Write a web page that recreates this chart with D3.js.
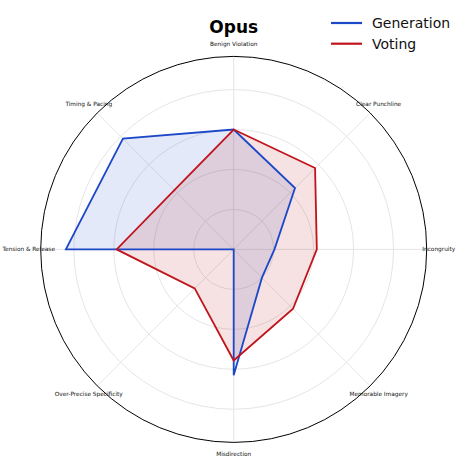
<!DOCTYPE html>
<html>
<head>
<meta charset="utf-8">
<script src="https://cdn.jsdelivr.net/npm/d3@7.9.0/dist/d3.min.js"></script>
<style>
  body { margin: 0; background: #fff; }
  svg { display: block; font-family: "DejaVu Sans", sans-serif; }
</style>
</head>
<body>
<svg id="chart" width="474" height="463"></svg>
<script>
// axes, clockwise from the top
const criteria = [
  "Benign Violation", "Clear Punchline", "Incongruity", "Memorable Imagery",
  "Misdirection", "Over-Precise Specificity", "Tension & Release", "Timing & Pacing"
];
const generation = [3.0, 2.17, 1.02, 1.0, 3.15, 0.0, 4.2, 3.92];
const voting = [3.0, 2.88, 2.08, 2.1, 2.78, 1.38, 2.93, 2.1];
const gridTicks = [1, 2, 3, 4];
const rMax = 4.83;

const series = [
  { name: "Generation", values: generation, color: "#1c48c8" },
  { name: "Voting", values: voting, color: "#c0141c" }
];

const svg = d3.select("#chart");
const cx = 233.7, cy = 249.4, R = 193;

const r = d3.scaleLinear().domain([0, rMax]).range([0, R]);
const angle = d3.scalePoint().domain(criteria.concat(["_end"])).range([0, 2 * Math.PI]);

const g = svg.append("g").attr("transform", `translate(${cx},${cy})`);

// grid circles
g.selectAll(".grid")
  .data(gridTicks)
  .join("circle")
  .attr("r", d => r(d))
  .attr("fill", "none")
  .attr("stroke", "#e2e2e2")
  .attr("stroke-width", 0.9);

// spokes
g.selectAll(".spoke")
  .data(criteria)
  .join("line")
  .attr("x1", 0).attr("y1", 0)
  .attr("x2", d => R * Math.sin(angle(d)))
  .attr("y2", d => -R * Math.cos(angle(d)))
  .attr("stroke", "#e2e2e2")
  .attr("stroke-width", 0.9);

// the polygons
let radial = d3.lineRadial()
  .angle((d, i) => angle(criteria[i]))
  .radius(d => r(d))
  .curve(d3.curveLinearClosed);

series.forEach(s => {
  g.append("path")
    .attr("d", radial(s.values))
    .attr("fill", s.color)
    .attr("fill-opacity", 0.12)
    .attr("stroke", "none");
});
series.forEach(s => {
  g.append("path")
    .attr("d", radial(s.values))
    .attr("fill", "none")
    .attr("stroke", s.color)
    .attr("stroke-width", 1.8)
    .attr("stroke-linejoin", "miter");
});

// outer frame
g.append("circle")
  .attr("r", R)
  .attr("fill", "none")
  .attr("stroke", "#000")
  .attr("stroke-width", 1);

// axis labels
g.selectAll(".lab")
  .data(criteria)
  .join("text")
  .attr("x", d => 205 * Math.sin(angle(d)))
  .attr("y", d => -205 * Math.cos(angle(d)))
  .attr("dy", "0.35em")
  .attr("text-anchor", "middle")
  .attr("font-size", 5.8)
  .attr("fill", "#111")
  .text(d => d);

// title
svg.append("text")
  .attr("x", cx)
  .attr("y", 33)
  .attr("text-anchor", "middle")
  .attr("font-size", 17)
  .attr("font-weight", "bold")
  .text("Opus");

// legend
const legend = svg.append("g").attr("transform", "translate(331,23)");
series.forEach((s, i) => {
  const row = legend.append("g").attr("transform", `translate(0,${i * 20.7})`);
  row.append("line")
    .attr("x1", 0).attr("x2", 31)
    .attr("stroke", s.color)
    .attr("stroke-width", 2.2);
  row.append("text")
    .attr("x", 41)
    .attr("dy", "0.35em")
    .attr("font-size", 14)
    .attr("fill", "#111")
    .text(s.name);
});
</script>
</body>
</html>
